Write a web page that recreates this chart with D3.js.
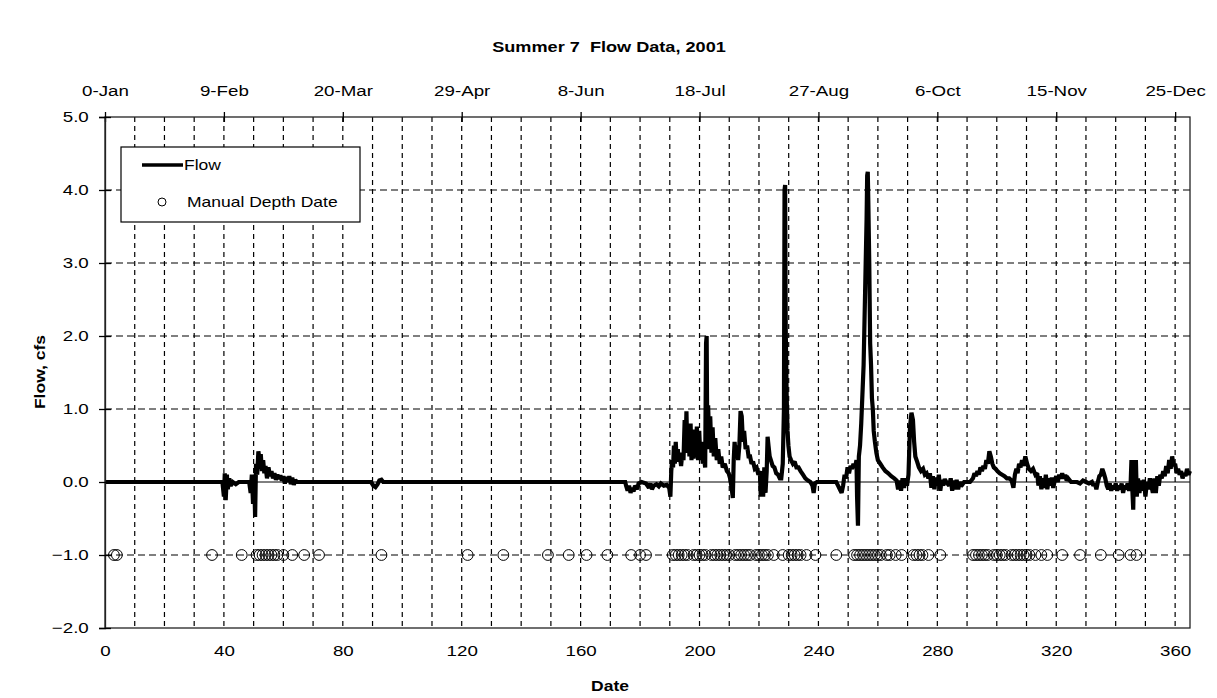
<!DOCTYPE html>
<html><head><meta charset="utf-8">
<script src="https://cdn.jsdelivr.net/npm/d3@7"></script>
<style>
body{margin:0;background:#fff}
svg{display:block}
text{font-family:"Liberation Sans",Arial,Helvetica,sans-serif;fill:#000}
</style>
</head><body>
<svg id="chart" width="1217" height="698"></svg>
<script>
// ---------------- data ----------------
const titleText = "Summer 7  Flow Data, 2001";
const xAxisTitle = "Date";
const yAxisTitle = "Flow, cfs";
const dayTicks = [0, 40, 80, 120, 160, 200, 240, 280, 320, 360];
const dateTickLabels = ["0-Jan", "9-Feb", "20-Mar", "29-Apr", "8-Jun", "18-Jul", "27-Aug", "6-Oct", "15-Nov", "25-Dec"];
const flowTicks = [-2, -1, 0, 1, 2, 3, 4, 5];
const gridDays = [10,20,30,40,50,60,70,80,90,100,110,120,130,140,150,160,170,180,190,200,210,220,230,240,250,260,270,280,290,300,310,320,330,340,350,360];
const legendLabels = ["Flow", "Manual Depth Date"];

// flow record: [day, cfs]
const flowSeries = [
[0,0],[39.5,0],[40,-0.2],[40.3,0.12],[40.6,-0.25],[41,0.1],[41.3,-0.1],[41.8,0.05],[42.3,-0.05],[43,0],[44,-0.03],[45,0],
[48.5,0],[49,-0.15],[49.4,0.1],[49.8,-0.3],[50.2,0.05],[50.5,-0.48],[50.8,0.25],[51.2,0.1],[51.6,0.42],[52,0.3],[52.4,0.38],
[52.8,0.15],[53.2,0.3],[53.6,0.12],[54,0.22],[54.5,0.05],[55,0.2],[55.5,0.08],[56,0.15],[56.5,0.05],[57,0.12],[57.5,0.03],
[58,0.1],[58.5,0.04],[59,0.09],[59.5,0.02],[60,0.08],[60.5,-0.02],[61,0.07],[61.5,0.0],[62,0.08],[62.5,-0.03],[63,0.06],
[63.5,-0.04],[64,0.03],[64.5,0],[65,0],
[89.5,0],[90.3,-0.05],[91,-0.07],[91.7,-0.03],[92.3,0.02],[93,0.03],[93.6,0],
[175,0],[175.3,-0.05],[175.8,-0.12],[176.3,-0.05],[176.8,-0.15],[177.3,-0.08],[177.8,-0.13],[178.3,-0.05],[179,-0.1],
[179.5,-0.02],[180.5,0],[182,-0.02],[183,-0.08],[183.5,-0.02],[184,-0.1],[184.6,-0.05],[185.5,-0.03],[186.3,-0.06],[187,-0.02],
[188,-0.05],[189,-0.04],[189.8,-0.08],[190.2,-0.2],[190.5,0.15],[190.8,0.3],[191.1,0.2],[191.4,0.5],[191.7,0.25],[192,0.55],
[192.3,0.3],[192.7,0.45],[193,0.28],[193.4,0.35],[193.8,0.22],[194.2,0.4],[194.6,0.3],[195,0.85],[195.3,0.45],[195.6,0.97],
[195.9,0.4],[196.3,0.75],[196.6,0.35],[197,0.8],[197.3,0.3],[197.7,0.72],[198,0.32],[198.4,0.62],[198.8,0.35],[199.1,0.76],
[199.5,0.3],[199.9,0.7],[200.3,0.3],[200.7,0.55],[201.1,0.25],[201.5,0.35],[201.9,0.2],[202.2,1.9],[202.4,2.0],[202.6,0.6],[202.9,1.05],
[203.3,0.45],[203.6,0.9],[204,0.4],[204.4,0.75],[204.8,0.35],[205.3,0.6],[205.8,0.3],[206.3,0.45],[206.8,0.25],[207.3,0.35],
[207.8,0.2],[208.5,0.25],[209.2,0.15],[209.8,0.12],[210.3,0.05],[210.8,-0.08],[211.2,-0.22],[211.5,0.3],[211.8,0.55],
[212.2,0.35],[212.6,0.5],[213,0.3],[213.4,0.5],[213.8,0.97],[214.2,0.9],[214.6,0.55],[215,0.7],[215.5,0.45],[216,0.5],
[216.5,0.35],[217,0.35],[217.5,0.25],[218,0.28],[218.6,0.18],[219.2,0.2],[219.8,0.1],[220.3,0.15],[220.6,-0.2],[221,0.15],
[221.4,-0.2],[221.8,0.2],[222.2,-0.15],[222.6,0.15],[222.9,0.62],[223.2,0.5],[223.6,0.35],[224,0.3],[224.6,0.22],[225.2,0.2],
[225.8,0.12],[226.4,0.1],[227,0.05],[227.5,0.05],[228,0.25],[228.4,1.0],[228.6,4.0],[228.8,4.07],[229,2.1],[229.3,1.2],[229.6,0.7],
[229.9,0.5],[230.3,0.35],[230.8,0.3],[231.4,0.25],[232,0.28],[232.6,0.2],[233.3,0.2],[234,0.15],[234.8,0.1],[235.6,0.05],
[236.5,0.02],[237.3,0],[238,-0.05],[238.4,-0.15],[238.8,-0.02],[239.5,0],[246,0],[246.6,-0.05],[247.2,-0.1],[247.8,-0.15],
[248.3,-0.05],[248.8,0.1],[249.3,0.05],[249.8,0.2],[250.3,0.12],[250.8,0.22],[251.3,0.18],[251.8,0.25],[252.3,0.2],[252.8,0.3],
[253,-0.2],[253.3,-0.6],[253.6,0.35],[254,0.5],[254.4,0.8],[254.8,1.2],[255.2,1.6],[255.6,2.4],[255.9,3.0],[256.2,3.6],
[256.4,4.2],[256.6,4.25],[256.8,3.8],[257.1,3.0],[257.4,1.9],[257.7,1.6],[258,1.15],[258.3,1.0],[258.6,0.7],[259,0.55],[259.5,0.4],
[260,0.3],[260.8,0.25],[261.6,0.2],[262.5,0.15],[263.5,0.12],[264.5,0.08],[265.5,0.05],[266.3,0.02],[266.8,-0.1],[267.3,0.02],
[267.8,-0.12],[268.3,0.05],[268.8,-0.08],[269.3,0.05],[269.8,-0.05],[270.3,0.1],[270.8,0.75],[271.3,0.95],[271.8,0.85],
[272.2,0.55],[272.6,0.35],[273.2,0.28],[273.8,0.2],[274.5,0.15],[275.2,0.18],[275.8,0.1],[276.4,0.12],[277,0.05],[277.5,0.12],
[278,-0.08],[278.5,0.08],[279,-0.1],[279.5,0.06],[280,-0.05],[280.5,0.1],[281,-0.12],[281.5,0.03],[282,-0.05],[282.5,0.04],
[283,0],[284,-0.05],[284.5,0.05],[285,-0.12],[285.5,0.02],[286,-0.1],[286.5,0.03],[287,-0.1],[287.5,0],[288,-0.06],[289,0],
[291,0],[292,0.05],[292.5,0.12],[293,0.08],[293.5,0.15],[294,0.1],[294.5,0.2],[295,0.15],[295.5,0.22],[296,0.18],[296.5,0.3],
[297,0.25],[297.5,0.42],[298,0.35],[298.5,0.25],[299,0.2],[299.6,0.18],[300.2,0.15],[301,0.12],[301.8,0.1],[302.6,0.08],
[303.4,0.05],[304.2,0.05],[305,0.02],[305.6,-0.08],[306.1,0.1],[306.6,0.18],[307,0.12],[307.5,0.25],[308,0.2],[308.5,0.3],
[309,0.22],[309.6,0.35],[310.2,0.25],[310.8,0.18],[311.5,0.15],[312.2,0.18],[313,0.1],[313.6,0.12],[314,-0.05],[314.5,0.08],
[315,-0.1],[315.5,0.05],[316,-0.08],[316.5,0.1],[317,-0.1],[317.5,0.05],[318,-0.05],[318.5,0.06],[319,-0.08],[319.5,0.02],
[320,0.08],[320.5,0],[321,0.1],[321.5,0.05],[322,0.12],[322.5,0.05],[323,0.1],[323.5,0.02],[324,0.05],[325,0],[327,0],
[328,-0.02],[329,0.02],[330,0],[331,-0.02],[332,0],[332.5,-0.05],[333,-0.02],[333.5,-0.1],[334,0],[334.5,0.08],[335,0.1],
[335.5,0.18],[336,0.12],[336.5,0.05],[337,-0.05],[337.5,-0.1],[338,-0.02],[338.5,-0.12],[339,-0.05],[339.5,-0.1],[340,-0.02],
[340.5,-0.12],[341,-0.05],[341.5,-0.1],[342,-0.02],[342.5,-0.15],[343,-0.05],[343.5,-0.1],[344,-0.02],[344.5,-0.12],[345,-0.05],
[345.3,0.3],[345.6,-0.1],[345.9,-0.38],[346.2,0.3],[346.5,-0.1],[346.8,0.3],[347.1,-0.2],[347.5,0.05],[348,-0.15],[348.5,0.02],
[349,-0.12],[349.5,0.03],[350,-0.2],[350.5,0],[351,-0.1],[351.5,0.05],[352,-0.05],[352.5,-0.15],[353,0.05],[353.5,-0.15],
[354,0.08],[354.5,-0.05],[355,0.1],[355.5,0.05],[356,0.15],[356.5,0.08],[357,0.22],[357.5,0.12],[358,0.3],[358.5,0.18],
[359,0.35],[359.5,0.22],[360,0.25],[360.5,0.12],[361,0.18],[361.5,0.1],[362,0.15],[362.5,0.05],[363,0.12],[363.5,0.08],
[364,0.18],[364.5,0.1],[365,0.15]
];

// days with a manual depth reading (plotted at -1.0)
const manualDays = [3,4,36,46,51,52,53,54,55,56,57,58,60,63,67,72,93,122,134,149,156,162,169,177,180,182,
191,192,193,194,195,196,198,199,200,201,202,204,205,206,207,208,209,210,212,213,214,215,216,217,219,220,221,222,223,
225,228,230,231,232,233,234,236,239,246,252,253,254,255,256,257,258,259,260,261,263,264,266,268,272,273,274,275,277,281,
292,293,294,295,296,297,299,300,301,302,303,305,306,307,308,309,310,311,313,315,317,322,328,335,341,345,347];
const manualLevel = -1.0;

// ---------------- layout ----------------
const plot = {left: 105, right: 1190, top: 117, bottom: 628};
const SX = 1.25; // horizontal text stretch of the source rendering

const svg = d3.select("#chart");
const x = d3.scaleLinear().domain([0, 365]).range([plot.left, plot.right]);
const y = d3.scaleLinear().domain([-2, 5]).range([plot.bottom, plot.top]);

function stretchText(sel){ sel.attr("transform", `scale(${SX},1)`); }

// gridlines
const grid = svg.append("g");
grid.selectAll("line.v").data(gridDays).join("line")
  .attr("x1", d => x(d)).attr("x2", d => x(d))
  .attr("y1", plot.top).attr("y2", plot.bottom)
  .attr("stroke", "#000").attr("stroke-width", 1.2).attr("stroke-dasharray", "5,4");
grid.selectAll("line.h").data(flowTicks.filter(v => v !== 0 && v !== -2 && v !== 5)).join("line")
  .attr("x1", plot.left).attr("x2", plot.right)
  .attr("y1", d => y(d)).attr("y2", d => y(d))
  .attr("stroke", "#000").attr("stroke-width", 1.2).attr("stroke-dasharray", "7,4");
grid.append("line")
  .attr("x1", plot.left).attr("x2", plot.right)
  .attr("y1", y(0)).attr("y2", y(0))
  .attr("stroke", "#000").attr("stroke-width", 1);

// frame
svg.append("rect").attr("x", plot.left).attr("y", plot.top)
  .attr("width", plot.right - plot.left).attr("height", plot.bottom - plot.top)
  .attr("fill", "none").attr("stroke", "#222").attr("stroke-width", 1.3);

// flow line
const line = d3.line().x(d => x(d[0])).y(d => y(d[1]));
svg.append("path").datum(flowSeries)
  .attr("d", line).attr("fill", "none").attr("stroke", "#000")
  .attr("stroke-width", 4.2).attr("stroke-linejoin", "miter").attr("stroke-miterlimit", 2);

// manual depth markers
svg.append("g").selectAll("circle").data(manualDays).join("circle")
  .attr("cx", d => x(d)).attr("cy", y(manualLevel)).attr("r", 5.4)
  .attr("fill", "none").attr("stroke", "#000").attr("stroke-width", 1);

// bottom axis (numeric day)
const axB = svg.append("g").attr("transform", `translate(0,${plot.bottom})`)
  .call(d3.axisBottom(x).tickValues(dayTicks).tickFormat(d3.format("d")).tickSize(0).tickPadding(17));
axB.select(".domain").remove();
axB.selectAll("text").style("font-size", "15px").style("font-family", null).call(stretchText);

// top axis (dates)
const axT = svg.append("g").attr("transform", `translate(0,${plot.top})`)
  .call(d3.axisTop(x).tickValues(dayTicks).tickFormat((d, i) => dateTickLabels[i]).tickSize(5).tickPadding(16));
axT.select(".domain").remove();
axT.selectAll(".tick line").attr("y1", 5).attr("stroke", "#000").attr("stroke-width", 1.3);
axT.selectAll("text").style("font-size", "15px").style("font-family", null).call(stretchText);

// left axis
const axL = svg.append("g").attr("transform", `translate(${plot.left},0)`)
  .call(d3.axisLeft(y).tickValues(flowTicks).tickFormat(d3.format(".1f")).tickSize(6).tickPadding(7));
axL.select(".domain").attr("stroke", "#222").attr("stroke-width", 1.3);
axL.selectAll(".tick line").attr("x1", 6).attr("stroke", "#000").attr("stroke-width", 1.3);
axL.selectAll("text").style("font-size", "15px").style("font-family", null).call(stretchText);

// titles
svg.append("text").attr("transform", `translate(609,52) scale(${SX},1)`)
  .attr("text-anchor", "middle").style("font-size", "14.5px").style("font-weight", "bold")
  .style("white-space", "pre").attr("xml:space", "preserve").text(titleText);
svg.append("text").attr("transform", `translate(610,691) scale(${SX},1)`)
  .attr("text-anchor", "middle").style("font-size", "14px").style("font-weight", "bold").text(xAxisTitle);
svg.append("text").attr("transform", `translate(45,372) rotate(-90) scale(${SX},1)`)
  .attr("text-anchor", "middle").style("font-size", "14px").style("font-weight", "bold").text(yAxisTitle);

// legend
const lg = svg.append("g");
lg.append("rect").attr("x", 121).attr("y", 147).attr("width", 239).attr("height", 75)
  .attr("fill", "#fff").attr("stroke", "#000").attr("stroke-width", 1.2);
lg.append("line").attr("x1", 142).attr("x2", 183).attr("y1", 165).attr("y2", 165)
  .attr("stroke", "#000").attr("stroke-width", 3.6);
lg.append("text").attr("transform", `translate(184,170) scale(${SX},1)`)
  .style("font-size", "14px").text(legendLabels[0]);
lg.append("circle").attr("cx", 162).attr("cy", 202).attr("r", 4)
  .attr("fill", "none").attr("stroke", "#000").attr("stroke-width", 1);
lg.append("text").attr("transform", `translate(187,207) scale(${SX},1)`)
  .style("font-size", "14px").text(legendLabels[1]);
</script>
</body></html>
